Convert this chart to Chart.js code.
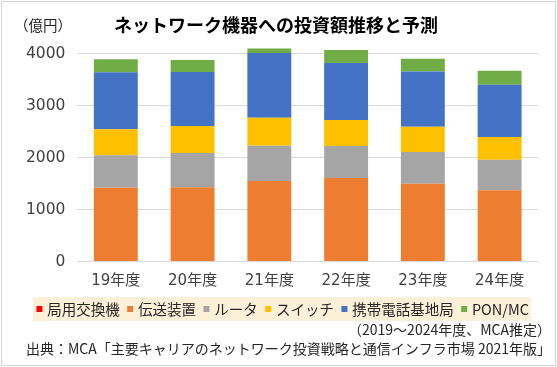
<!DOCTYPE html>
<html><head><meta charset="utf-8">
<script src="https://cdn.jsdelivr.net/npm/chart.js@4"></script>
<style>html,body{margin:0;padding:0;background:#fff;}canvas{display:block;}</style>
</head><body>
<canvas id="c" width="557" height="367"></canvas>
<script>
const categories = ['19年度','20年度','21年度','22年度','23年度','24年度'];
const seriesNames = ['局用交換機','伝送装置','ルータ','スイッチ','携帯電話基地局','PON/MC'];
const kyokuyou = [0, 0, 0, 0, 0, 0];
const densou   = [1420, 1430, 1550, 1610, 1500, 1375];
const router   = [630, 660, 680, 615, 610, 585];
const sw       = [500, 520, 540, 500, 485, 440];
const keitai   = [1100, 1045, 1250, 1100, 1065, 1005];
const ponmc    = [250, 230, 85, 250, 250, 270];
const yTicks   = [0, 1000, 2000, 3000, 4000];
const titleText = 'ネットワーク機器への投資額推移と予測';
const unitText = '（億円）';
const noteLines = ['（2019～2024年度、MCA推定）', '出典：MCA「主要キャリアのネットワーク投資戦略と通信インフラ市場 2021年版」'];

const colors = ['#FF0000','#ED7D31','#A5A5A5','#FFC000','#4472C4','#70AD47'];
const seriesData = [kyokuyou, densou, router, sw, keitai, ponmc];
const FONT = '"DejaVu Sans", "Noto Sans CJK JP", sans-serif';
const JFONT = '"Noto Sans CJK JP", sans-serif';
const LEGEND_X_SHIFT = 8;
const LEGEND_CENTER_Y = 309;

const decor = {
  id: 'decor',
  afterLayout(chart) {
    const lg = chart.legend;
    lg.left += LEGEND_X_SHIFT; lg.right += LEGEND_X_SHIFT;
    const lab = lg.options.labels;
    const fs = lab.font.size;
    const d = LEGEND_CENTER_Y - (lg.top + lab.padding + fs / 2);
    lg.top += d; lg.bottom += d;
  },
  beforeDraw(chart) {
    const ctx = chart.ctx;
    ctx.save();
    ctx.fillStyle = '#ffffff';
    ctx.fillRect(0, 0, chart.width, chart.height);
    ctx.strokeStyle = '#d4d4d4';
    ctx.lineWidth = 1;
    ctx.strokeRect(1.5, 1.5, chart.width - 3, chart.height - 3);
    ctx.fillStyle = '#FDF0D8';
    ctx.fillRect(33, LEGEND_CENTER_Y - 12, 498, 24);
    ctx.restore();
  },
  afterDraw(chart) {
    const ctx = chart.ctx;
    ctx.save();
    ctx.fillStyle = '#262626';
    ctx.textBaseline = 'middle';
    ctx.font = '14.5px ' + JFONT;
    ctx.textAlign = 'left';
    ctx.fillText(unitText, 14, 25);
    ctx.textAlign = 'right';
    ctx.font = '14px ' + JFONT;
    ctx.fillText(noteLines[0], 551, 330);
    ctx.fillText(noteLines[1], 551, 349);
    ctx.restore();
  }
};

new Chart(document.getElementById('c'), {
  type: 'bar',
  data: {
    labels: categories,
    datasets: seriesNames.map((n, i) => ({
      label: n,
      data: seriesData[i],
      backgroundColor: colors[i],
      borderWidth: 0,
      categoryPercentage: 1,
      barPercentage: 0.572
    }))
  },
  options: {
    responsive: false,
    animation: false,
    layout: { padding: { left: 14, right: 19, top: 0, bottom: 31 } },
    plugins: {
      title: {
        display: true, text: titleText, color: '#000',
        font: { family: JFONT, size: 18, weight: 'bold' },
        padding: { top: 14, bottom: 8 }
      },
      legend: {
        position: 'bottom',
        labels: {
          usePointStyle: true, pointStyle: 'rect',
          boxWidth: 1, boxHeight: 6, padding: 10,
          color: '#262626',
          font: { family: JFONT, size: 14.5 }
        }
      },
      tooltip: { enabled: false }
    },
    scales: {
      x: {
        stacked: true,
        grid: { display: false, drawTicks: false },
        border: { display: false },
        ticks: { color: '#404040', padding: 11, font: { family: FONT, size: 15 } }
      },
      y: {
        stacked: true,
        min: 0, max: 4200,
        afterBuildTicks(scale) { scale.ticks = yTicks.map(v => ({ value: v })); },
        grid: { color: '#d9d9d9', drawTicks: false },
        border: { display: false },
        ticks: { color: '#404040', padding: 12, font: { family: FONT, size: 15.5 }, callback: v => String(v) }
      }
    }
  },
  plugins: [decor]
});
</script>
</body></html>
